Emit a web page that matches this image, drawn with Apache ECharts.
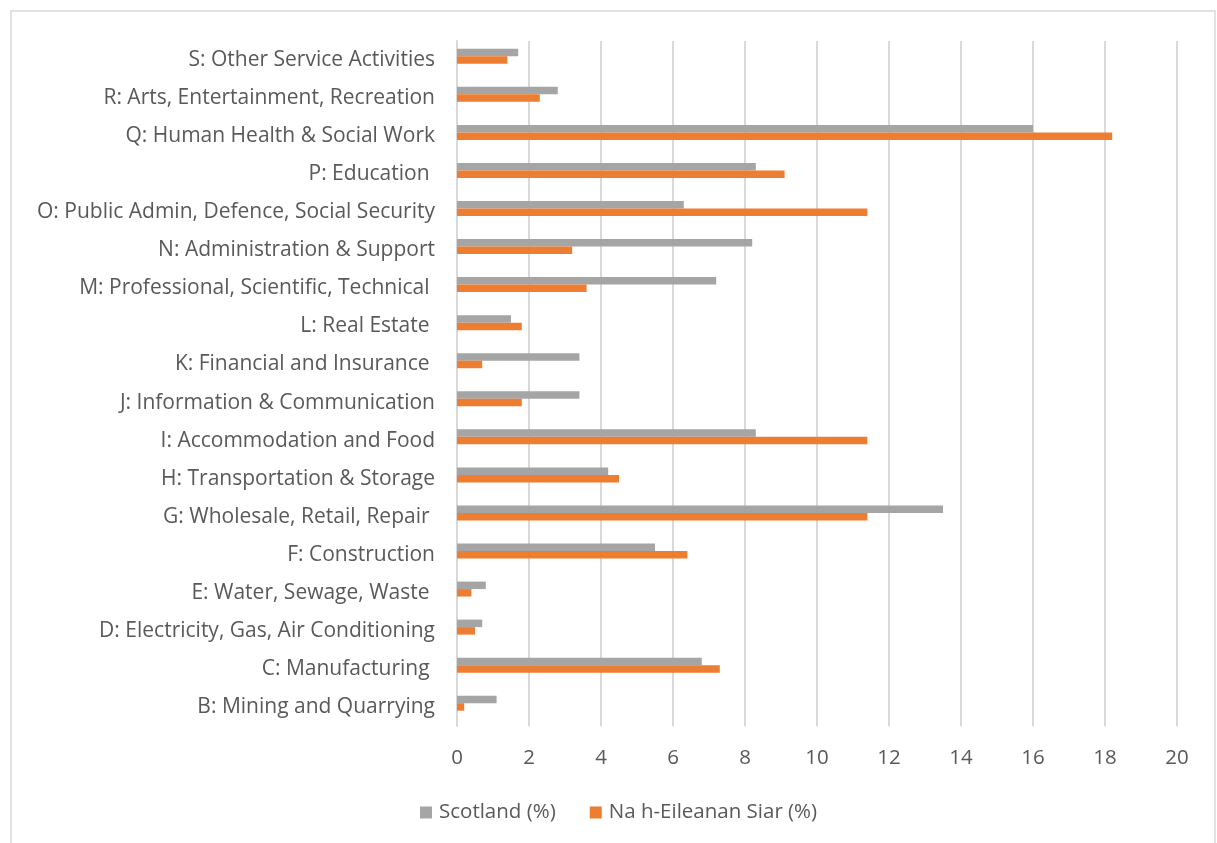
<!DOCTYPE html>
<html>
<head>
<meta charset="utf-8">
<title>Employment by industry</title>
<script src="https://cdn.jsdelivr.net/npm/echarts@6/dist/echarts.min.js"></script>
<style>
  html, body { margin: 0; padding: 0; background: #ffffff; }
  #chart { width: 1217px; height: 843px; }
</style>
</head>
<body>
<div id="chart"></div>
<script>
// Industry sections, listed bottom to top as they appear on the axis
const categories = [
  'B: Mining and Quarrying',
  'C: Manufacturing ',
  'D: Electricity, Gas, Air Conditioning',
  'E: Water, Sewage, Waste ',
  'F: Construction',
  'G: Wholesale, Retail, Repair ',
  'H: Transportation & Storage',
  'I: Accommodation and Food',
  'J: Information & Communication',
  'K: Financial and Insurance ',
  'L: Real Estate ',
  'M: Professional, Scientific, Technical ',
  'N: Administration & Support',
  'O: Public Admin, Defence, Social Security',
  'P: Education ',
  'Q: Human Health & Social Work',
  'R: Arts, Entertainment, Recreation',
  'S: Other Service Activities'
];

// Share of employment (%) in each section
const scotland = [1.1, 6.8, 0.7, 0.8, 5.5, 13.5, 4.2, 8.3, 3.4, 3.4, 1.5, 7.2, 8.2, 6.3, 8.3, 16.0, 2.8, 1.7];
const eileananSiar = [0.2, 7.3, 0.5, 0.4, 6.4, 11.4, 4.5, 11.4, 1.8, 0.7, 1.8, 3.6, 3.2, 11.4, 9.1, 18.2, 2.3, 1.4];

const seriesNames = ['Scotland (%)', 'Na h-Eileanan Siar (%)'];
const xTicks = { min: 0, max: 20, interval: 2 };

const FONT = '"Open Sans", Lato, sans-serif';
const FONT_SIZE = 20.5;
const TEXT = '#595959';
const GRID = '#d9d9d9';

const chart = echarts.init(document.getElementById('chart'), null, { renderer: 'canvas' });

chart.setOption({
  backgroundColor: '#ffffff',
  animation: false,
  textStyle: { fontFamily: FONT },
  graphic: [{
    type: 'rect',
    shape: { x: 11, y: 11, width: 1204, height: 850 },
    style: { fill: null, stroke: '#d9d9d9', lineWidth: 1.5 },
    silent: true,
    z: -1
  }],
  grid: { left: 457, right: 40, top: 41, bottom: 117, containLabel: false },
  legend: {
    data: seriesNames,
    left: 415,
    top: 797,
    icon: 'rect',
    itemWidth: 12,
    itemHeight: 12,
    itemGap: 34,
    textStyle: { color: TEXT, fontSize: FONT_SIZE, fontFamily: FONT, padding: [0, 0, 0, 2] }
  },
  xAxis: {
    type: 'value',
    min: xTicks.min,
    max: xTicks.max,
    interval: xTicks.interval,
    axisLine: { show: false },
    axisTick: { show: false },
    axisLabel: { color: TEXT, fontSize: FONT_SIZE, fontFamily: FONT, margin: 22 },
    splitLine: { show: true, lineStyle: { color: GRID, width: 2 } }
  },
  yAxis: {
    type: 'category',
    data: categories,
    axisLine: { show: true, lineStyle: { color: GRID, width: 2 } },
    axisTick: { show: false },
    axisLabel: { color: TEXT, fontSize: 21, fontFamily: FONT, margin: 22 }
  },
  series: [
    {
      name: seriesNames[0],
      type: 'bar',
      data: scotland,
      barWidth: 7.5,
      barGap: '0%',
      itemStyle: { color: '#a5a5a5' }
    },
    {
      name: seriesNames[1],
      type: 'bar',
      data: eileananSiar,
      barWidth: 7.5,
      barGap: '0%',
      itemStyle: { color: '#ed7d31' }
    },
    {
      // empty spacer column: lifts each pair of bars a little above the band centre
      name: 'spacer',
      type: 'bar',
      data: [],
      barWidth: 7.5,
      barGap: '0%',
      silent: true
    }
  ]
});
</script>
</body>
</html>
